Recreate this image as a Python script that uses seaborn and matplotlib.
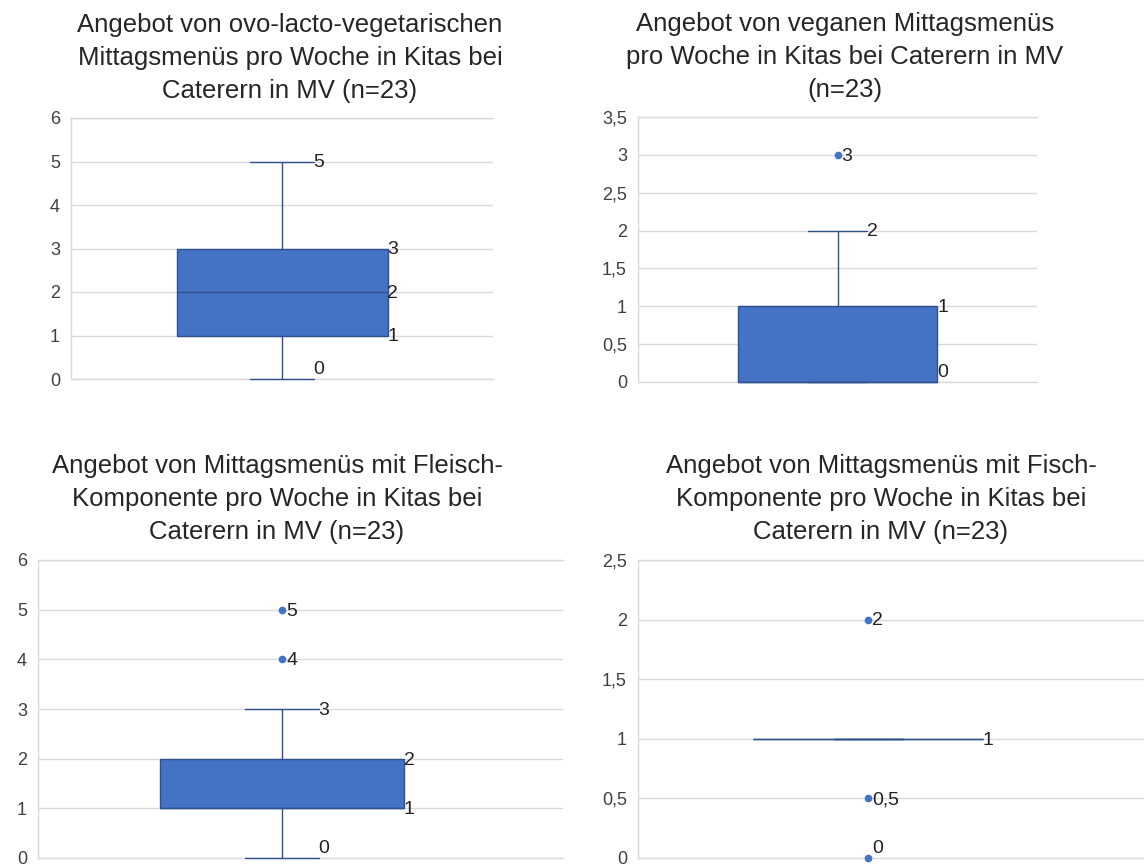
import numpy as np
import pandas as pd
import seaborn as sns
import matplotlib.pyplot as plt
from matplotlib.cbook import boxplot_stats

# Antworten der 23 Caterer: Anzahl Menüs pro Woche
vegetarisch = [0]*3 + [1]*5 + [2]*6 + [3]*6 + [4]*2 + [5]*1
vegan = [0]*12 + [1]*8 + [2]*2 + [3]*1
fleisch = [0]*2 + [1]*10 + [2]*7 + [3]*2 + [4]*1 + [5]*1
fisch = [0]*1 + [0.5]*1 + [1]*20 + [2]*1

titles = ['Angebot von ovo-lacto-vegetarischen\nMittagsmenüs pro Woche in Kitas bei\nCaterern in MV (n=23)',
          'Angebot von veganen Mittagsmenüs\npro Woche in Kitas bei Caterern in MV\n(n=23)',
          'Angebot von Mittagsmenüs mit Fleisch-\nKomponente pro Woche in Kitas bei\nCaterern in MV (n=23)',
          'Angebot von Mittagsmenüs mit Fisch-\nKomponente pro Woche in Kitas bei\nCaterern in MV (n=23)']
yticks = [[0, 1, 2, 3, 4, 5, 6],
          [0, 0.5, 1, 1.5, 2, 2.5, 3, 3.5],
          [0, 1, 2, 3, 4, 5, 6],
          [0, 0.5, 1, 1.5, 2, 2.5]]
series = [vegetarisch, vegan, fleisch, fisch]

W, H = 1144, 868
# axes rectangles in pixels: left, top, right, bottom
rects = [(71, 118, 493, 379), (638, 117, 1037, 382), (38, 560, 563, 858), (638, 560, 1144, 858)]
xlims = [(-0.5, 0.5), (-0.5, 0.5), (-0.5, 0.576), (-0.5, 0.6)]
title_pos = [(290, 58), (845, 57), (277, 499), (881, 499)]

fill = '#4472C4'
edge = '#2F528F'
grid = '#D9D9D9'
txt = '#404040'
box_w = 0.5
cap_w = 0.15

sns.set_theme(style='white')
plt.rcParams['font.family'] = ['Liberation Sans', 'DejaVu Sans']

fig = plt.figure(figsize=(W/100, H/100), dpi=100)

def fmt(v):
    return ('%g' % v).replace('.', ',')

for i, vals in enumerate(series):
    l, t, r, b = rects[i]
    ax = fig.add_axes([l/W, 1 - b/H, (r - l)/W, (b - t)/H])
    df = pd.DataFrame({'menus': vals})
    sns.boxplot(data=df, y='menus', ax=ax, width=box_w, color=fill, saturation=1,
                linecolor=edge, linewidth=1, capwidths=cap_w,
                flierprops=dict(marker='o', markerfacecolor=fill, markeredgecolor=fill, markersize=4.5))
    for ln in ax.lines:
        ln.set_clip_on(False)
        ln.set_zorder(3)
    for p in ax.patches:
        p.set_clip_on(False)
    ax.set_xlim(*xlims[i])
    ax.set_ylim(yticks[i][0], yticks[i][-1])
    ax.set_yticks(yticks[i])
    ax.set_yticklabels([fmt(v) for v in yticks[i]])
    ax.set_xticks([])
    ax.set_xlabel('')
    ax.set_ylabel('')
    ax.yaxis.grid(True, color=grid, linewidth=1)
    ax.set_axisbelow(True)
    ax.spines['right'].set_visible(False)
    for s in ['top', 'bottom', 'left']:
        ax.spines[s].set_color(grid)
        ax.spines[s].set_linewidth(1)
        ax.spines[s].set_zorder(0)
    ax.tick_params(axis='y', length=0, pad=8, labelsize=13, labelcolor=txt)

    # Datenbeschriftungen wie in Excel (gleiche Stelle nur einmal)
    st = boxplot_stats(np.array(vals, dtype=float))[0]
    y0 = yticks[i][0]
    done = set()
    def lab(x, y, dx=0):
        if (x, y) in done:
            return
        done.add((x, y))
        ax.annotate(fmt(y), (x, y), xytext=(dx, 1 if y == y0 else -1), textcoords='offset points',
                    ha='left', va='bottom' if y == y0 else 'center', fontsize=14, color='#222222')
    for key in ['q1', 'med', 'q3']:
        lab(box_w/2, st[key])
    for key, edgekey in [('whislo', 'q1'), ('whishi', 'q3')]:
        if st[key] != st[edgekey]:
            lab(cap_w/2, st[key])
        else:
            lab(box_w/2, st[key])
    for f in st['fliers']:
        lab(0, f, dx=3)

    tx, ty = title_pos[i]
    fig.text(tx/W, 1 - ty/H, titles[i], ha='center', va='center', fontsize=18.5,
             color='#262626', linespacing=1.45)

plt.savefig('out.png', dpi=100)
